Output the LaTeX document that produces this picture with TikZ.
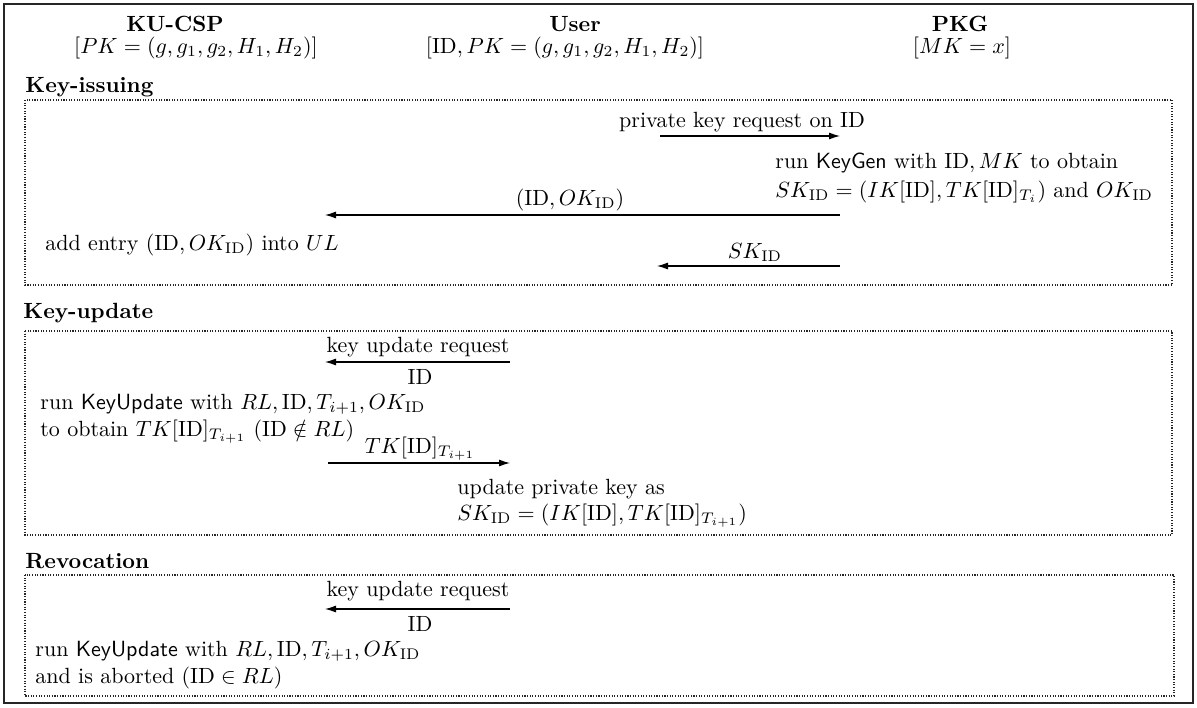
\documentclass[tikz,border=0pt]{standalone}
\usepackage{amsmath,amssymb}
\usetikzlibrary{arrows.meta}

\newcommand{\pid}{\mathrm{ID}}
\newcommand{\okid}{OK_{\mathrm{ID}}}
\newcommand{\skid}{SK_{\mathrm{ID}}}

\tikzset{
  lbl/.style={inner sep=0pt, anchor=base},
  lblw/.style={inner sep=0pt, anchor=base west},
  msg/.style={-{Latex[length=5pt,width=3.2pt]}, line width=0.5pt},
  phasebox/.style={draw, black!85, line width=0.5pt, dash pattern=on 0.5pt off 0.7pt},
}

\begin{document}
\begin{tikzpicture}[x=0.4545pt,y=-0.4545pt]
        \useasboundingbox (0,0) rectangle (1197,707);
        % Frame
        \draw[line width=1.2pt, black!85] (4,4) rectangle (1193,703);

        % Coordinates
        \coordinate (reqS) at (660,136);  \coordinate (reqE) at (840,136);
        \coordinate (okS) at (840,215);   \coordinate (okE) at (325,215);
        \coordinate (skS) at (840,266);   \coordinate (skE) at (657,266);
        \coordinate (updS) at (510,362);  \coordinate (updE) at (325,362);
        \coordinate (tkS) at (328,463);   \coordinate (tkE) at (510,463);
        \coordinate (revS) at (510,609);  \coordinate (revE) at (325,609);

        % Phase boxes
        \draw[phasebox] (25,100) rectangle (1172,285);
        \draw[phasebox] (25,331) rectangle (1172,535);
        \draw[phasebox] (25,575) rectangle (1174,696);

        % Header
        \node[lbl] (csp) at (175,31) {\textbf{KU-CSP}};
        \node[lbl] (cspkey) at (196,53) {$[PK=(g,g_1,g_2,H_1,H_2)]$};
        \node[lbl] (usr) at (575,31) {\textbf{User}};
        \node[lbl] (usrkey) at (565,53) {$[\pid,PK=(g,g_1,g_2,H_1,H_2)]$};
        \node[lbl] (pkg) at (960,31) {\textbf{PKG}};
        \node[lbl] (pkgkey) at (962,53) {$[MK=x]$};

        % Key-issuing
        \node[lblw] (issue) at (25,92) {\textbf{Key-issuing}};
        \node[lbl] (req) at (742,127) {private key request on $\pid$};
        \node[lblw] (gen1) at (775,168) {run \textsf{KeyGen} with $\pid,MK$ to obtain};
        \node[lblw] (gen2) at (775,197) {$\skid=(IK[\pid],TK[\pid]_{T_i})$ and $\okid$};
        \node[lbl] (ok) at (570,205) {$(\pid,\okid)$};
        \node[lblw] (add) at (45,250) {add entry $(\pid,\okid)$ into $UL$};
        \node[lbl] (sk) at (755,258) {$\skid$};

        % Key-update
        \node[lblw] (update) at (23,318) {\textbf{Key-update}};
        \node[lbl] (upd) at (418,352) {key update request};
        \node[lbl] (updid) at (420,384) {$\pid$};
        \node[lblw] (run1) at (40,409) {run \textsf{KeyUpdate} with $RL,\pid,T_{i+1},\okid$};
        \node[lblw] (run2) at (40,436) {to obtain $TK[\pid]_{T_{i+1}}$ $(\pid\notin RL)$};
        \node[lbl] (tk) at (420,453) {$TK[\pid]_{T_{i+1}}$};
        \node[lblw] (new1) at (457,494) {update private key as};
        \node[lblw] (new2) at (457,520) {$\skid=(IK[\pid],TK[\pid]_{T_{i+1}})$};

        % Revocation
        \node[lblw] (revoke) at (25,568) {\textbf{Revocation}};
        \node[lbl] (rev) at (418,596) {key update request};
        \node[lbl] (revid) at (420,631) {$\pid$};
        \node[lblw] (ab1) at (35,656) {run \textsf{KeyUpdate} with $RL,\pid,T_{i+1},\okid$};
        \node[lblw] (ab2) at (35,683) {and is aborted $(\pid\in RL)$};

        % Messages
        \draw[msg] (reqS) -- (reqE);
        \draw[msg] (okS) -- (okE);
        \draw[msg] (skS) -- (skE);
        \draw[msg] (updS) -- (updE);
        \draw[msg] (tkS) -- (tkE);
        \draw[msg] (revS) -- (revE);
\end{tikzpicture}
\end{document}
